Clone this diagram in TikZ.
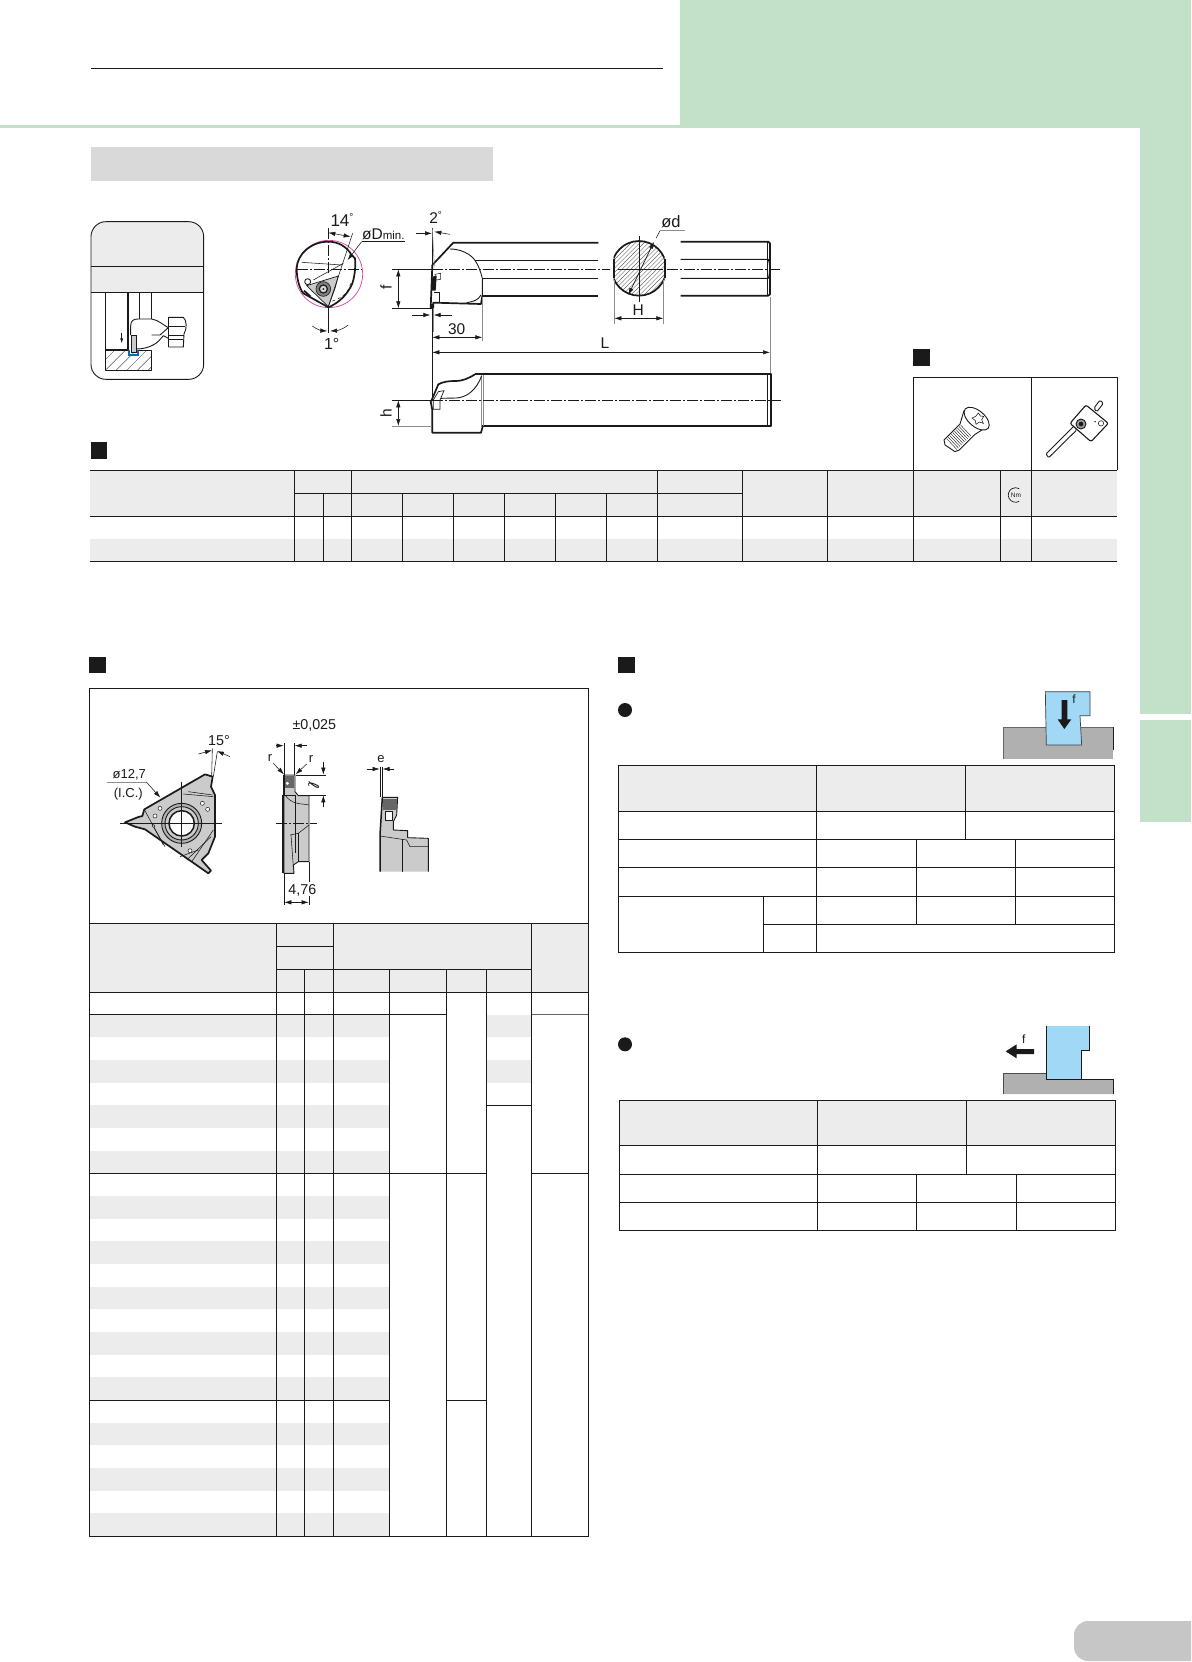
\documentclass[tikz,border=0pt]{standalone}
\usepackage{fontspec}
\setmainfont{Liberation Sans}
\newfontfamily\symfont{DejaVu Sans}
\usetikzlibrary{arrows.meta}
\definecolor{pgreen}{HTML}{C3E0C8}
\definecolor{bargray}{HTML}{D9D9D9}
\definecolor{hdrgray}{HTML}{ECECEC}
\definecolor{ink}{HTML}{1A1A1A}
\definecolor{pillgray}{HTML}{C6C6C6}
\definecolor{toolblue}{HTML}{A0D8F5}
\definecolor{workgray}{HTML}{B0B0B0}
\definecolor{insgray}{HTML}{CBCBCB}
\definecolor{groove}{HTML}{0A6AB0}
\definecolor{pinkc}{HTML}{E0409A}
\newcommand{\smalldeg}{\raisebox{0.3em}{\fontsize{10}{10}\selectfont °}}
\tikzset{
  zA/.style={shift={(80,200)},scale=1/3},
  zB/.style={shift={(370,200)},scale=1/3},
  zC/.style={shift={(85,680)},scale=1/3},
  zD/.style={shift={(610,650)},scale=1/3},
  zE/.style={shift={(610,1010)},scale=1/3},
  zF/.style={shift={(910,340)},scale=1/3},
  tl/.style={draw=ink,line width=1pt},
  vl/.style={draw=ink,line width=0.9pt},
  thickl/.style={draw=ink,line width=1.7pt,line join=round},
  midl/.style={draw=ink,line width=0.9pt,line join=round},
  thinl/.style={draw=ink,line width=0.55pt},
  greyl/.style={draw=black!45,line width=0.6pt},
  cline/.style={draw=ink,line width=0.7pt,dash pattern=on 11pt off 2pt on 2pt off 2pt},
  one/.style={draw=ink,line width=0.55pt,-{Latex[length=7pt,width=4.4pt]}},
  both/.style={draw=ink,line width=0.55pt,{Latex[length=7pt,width=4.4pt]}-{Latex[length=7pt,width=4.4pt]}},
  lab/.style={inner sep=0pt,text=ink,font=\fontsize{15.5}{15.5}\selectfont},
  labm/.style={inner sep=0pt,text=ink,font=\fontsize{14.3}{14.3}\selectfont},
  labb/.style={inner sep=0pt,text=ink,font=\fontsize{17}{17}\selectfont},
  labs/.style={inner sep=0pt,text=ink,font=\fontsize{13}{13}\selectfont},
  hatchl/.style={draw=black!60,line width=0.4pt},
  secsq/.style={fill=ink}
}
\begin{document}
\begin{tikzpicture}[x=1pt,y=-1pt]
\useasboundingbox (0,0) rectangle (1191,1662);
\fill[white] (0,0) rectangle (1191,1662);
% page furniture
\fill[pgreen] (680,0) rectangle (1191,128);
\fill[pgreen] (0,125) rectangle (1191,128);
\fill[pgreen] (1140,128) rectangle (1191,714);
\fill[pgreen] (1140,720) rectangle (1191,822);
\draw[ink,line width=1.1pt] (91,68.5) -- (663,68.5);
\fill[bargray] (91,147) rectangle (493,181);
\fill[pillgray] (1191,1621) [rounded corners=14pt] -- (1074,1621) -- (1074,1661) [sharp corners] -- (1191,1661) -- cycle;
% section squares
\fill[secsq] (91,442.3) rectangle (107,458.7);
\fill[secsq] (913,349) rectangle (930,366);
\fill[secsq] (89,657) rectangle (106,673);
\fill[secsq] (618,657) rectangle (635,673);
\fill[ink] (625,710) circle (7);
\fill[ink] (625,1044.3) circle (7);

% ---- application card
\begin{scope}[zA]
  \begin{scope}
    \clip[rounded corners=15pt] (33,65) rectangle (371,538);
    \fill[hdrgray] (33,65) rectangle (371,277);
  \end{scope}
  \draw[ink,line width=0.9pt,rounded corners=15pt] (33,65) rectangle (371,538);
  \draw[ink,line width=0.8pt] (33,199) -- (371,199);
  \draw[ink,line width=0.8pt] (33,277) -- (371,277);
  \begin{scope}
    \clip (77,450) rectangle (215,511);
    \foreach \i in {-20,12,...,230} \draw[draw=ink,line width=0.35pt] (\i,511) -- (\i+61,450);
  \end{scope}
  \draw[midl] (77,450) -- (77,511) -- (215,511) -- (215,450) -- (176,450);
  \draw[midl] (77,277) -- (77,450);
  \draw[midl] (179,277) -- (179,357);
  \draw[midl] (215,277) -- (215,357);
  \draw[draw=ink,line width=1.3pt] (144,277) -- (144,450) -- (77,450);
  \draw[draw=groove,line width=1.7pt] (147,450) -- (147,464) -- (175,464) -- (175,450);
  \fill[white] (152,460) -- (152,378) .. controls (152,362) and (160,357) .. (175,357) -- (215,357)
     .. controls (235,360) and (250,375) .. (265,383) -- (265,405) .. controls (248,410) and (250,420) .. (215,437)
     .. controls (200,444) and (185,447) .. (170,447) -- (170,460) -- cycle;
  \draw[midl] (152,405) -- (152,378) .. controls (152,362) and (160,357) .. (175,357) -- (215,357)
     .. controls (235,360) and (250,375) .. (265,383);
  \draw[midl] (168,447) .. controls (185,447) and (200,444) .. (215,437) .. controls (235,428) and (240,418) .. (250,407) -- (265,415);
  \draw[midl] (215,405) -- (240,405) -- (265,383);
  \draw[midl] (265,352) -- (265,441);
  \draw[midl] (265,352) -- (310,352) .. controls (320,360) and (322,385) .. (312,402) -- (310,441) -- (265,441);
  \draw[midl] (265,378) -- (316,378);
  \draw[midl] (265,405) -- (312,405);
  \draw[midl] (265,418) -- (310,418);
  \draw[fill=insgray,draw=ink,line width=0.6pt] (154,405) rectangle (170,458);
  \draw[draw=ink,line width=0.5pt,-{Latex[length=5pt,width=3pt]}] (125,398) -- (125,430);
\end{scope}

% ---- end view of holder
\begin{scope}[zA]
  \draw[pinkc,line width=0.7pt] (747,222) circle (101);
  \draw[thickl,fill=white] (650,205) .. controls (652,160) and (695,125) .. (745,125) .. controls (775,125) and (800,140) .. (815,165)
     -- (825,175) .. controls (828,205) and (822,240) .. (815,255) .. controls (800,285) and (780,305) .. (750,320)
     -- (745,322) -- (738,318) -- (670,280) .. controls (658,265) and (650,235) .. (650,205) -- cycle;
  \draw[thinl] (665,187) -- (785,195);
  \draw[thinl] (700,240) -- (790,190);
  \draw[thinl,dashed] (812,250) .. controls (805,280) and (785,295) .. (752,305);
  \draw[fill=insgray,draw=ink,line width=0.7pt] (680,257) -- (775,228) -- (765,265) -- (745,320) -- cycle;
  \draw[midl,fill=white] (683,245) circle (9);
  \draw[draw=ink,line width=1.8pt] (672,272) -- (692,290);
  \draw[draw=ink,fill=black!50,line width=0.6pt] (730,267) circle (22);
  \draw[draw=ink,fill=black!15,line width=1.2pt] (730,267) circle (12);
  \fill[ink] (730,267) circle (3);
  \draw[cline] (652,207) -- (845,207);
  \draw[cline] (745,85) -- (745,225);
  \draw[midl] (745,320) -- (745,400);
  \draw[thinl] (745,320) -- (818,100);
  \draw[both] (745,98) -- (812,110);
  \node[labb] (lab14) at (786,60) {14\smalldeg};
  \node[labb,font=\fontsize{16}{16}\selectfont] (lab1) at (755,433) {1°};
  \node[lab,anchor=west] (labD) at (846,102) {øD{\fontsize{11.5}{11.5}\selectfont min.}};
  \draw[thinl] (975,125) -- (845,125);
  \draw[one] (845,125) -- (803,180);
  \draw[one] (697,378) .. controls (710,388) and (725,392) .. (742,393);
  \draw[one] (805,375) .. controls (790,388) and (770,392) .. (750,393);
\end{scope}

% ---- holder views
\begin{scope}[zB]
  % top view
  \draw[thickl] (187,195) -- (250,128) -- (685,128);
  \draw[thickl] (337,287) -- (685,287);
  \draw[midl] (315,181) -- (685,181);
  \draw[midl] (337,235) -- (685,235);
  \draw[thickl] (187,195) -- (182,325) -- (190,325) -- (190,308) -- (333,312) -- (337,287);
  \draw[midl] (337,287) -- (337,235) .. controls (332,215) and (325,195) .. (315,181) .. controls (300,160) and (270,147) .. (240,147);
  \draw[midl] (333,285) .. controls (325,300) and (310,305) .. (290,308);
  \draw[draw=ink,line width=0.5pt,fill=white] (195,223) -- (212,220) -- (212,238) -- (198,240) -- cycle;
  \fill[ink] (187,230) -- (200,227) -- (197,272) -- (185,272) -- cycle;
  \draw[thinl] (192,278) -- (208,278) -- (208,306);
  \fill[ink] (184,312) rectangle (190,323);
  % shaft end
  \draw[thickl] (932,125) -- (1195,125) -- (1200,130) -- (1200,283) -- (1195,287) -- (932,287);
  \draw[midl] (932,178) -- (1195,178) .. controls (1200,190) and (1200,220) .. (1195,235) -- (932,235);
  \draw[thinl] (1192,125) -- (1192,287);
  % section
  \begin{scope}
    \clip (731,100) rectangle (884,310);
    \begin{scope}
      \clip (807,205) circle (82);
      \foreach \i in {540,553,...,1160} \draw[hatchl] (\i,320) -- (\i+220,100);
    \end{scope}
    \draw[thickl] (807,205) circle (82);
  \end{scope}
  \draw[thickl] (731,176) -- (731,234) (884,176) -- (884,234);
  \draw[thinl] (807,108) -- (807,305);
  \draw[thinl] (743,208) -- (880,208);
  % centre lines
  \draw[cline] (187,208) -- (720,208);
  \draw[cline] (890,208) -- (1232,208);
  % dimensions f
  \draw[thinl] (65,208) -- (187,208);
  \draw[thinl] (65,325) -- (185,325);
  \draw[both] (85,208) -- (85,325);
  \node[lab,rotate=90] (labf) at (48,262) {f};
  % 2 deg
  \node[lab] (lab2) at (197,52) {2\smalldeg};
  \draw[thinl] (187,85) -- (187,195);
  \draw[greyl] (187,85) -- (193,200);
  \draw[one] (138,100) -- (186,100);
  \draw[one] (240,103) -- (193,95);
  % tip offset
  \draw[one] (125,345) -- (181,345);
  \draw[one] (245,345) -- (191,345);
  % 30
  \node[lab] (lab30) at (260,388) {30};
  \draw[greyl] (190,325) -- (190,395);
  \draw[greyl] (337,290) -- (337,422);
  \draw[both] (187,412) -- (337,412);
  % L
  \node[lab] (labL) at (705,428) {L};
  \draw[both] (187,457) -- (1200,457);
  \draw[greyl] (1201,290) -- (1201,521);
  \draw[draw=ink,line width=0.7pt] (186,325) -- (186,600);
  % section dims
  \node[lab,font=\fontsize{16.5}{16.5}\selectfont] (labd) at (903,65) {ød};
  \draw[greyl] (945,92) -- (870,92);
  \draw[thinl] (870,92) -- (858,115);
  \draw[both,line width=0.7pt] (852,125) -- (775,285);
  \node[lab] (labH) at (805,330) {H};
  \draw[greyl] (733,240) -- (733,372);
  \draw[greyl] (880,240) -- (880,372);
  \draw[both] (733,355) -- (880,355);
  % side view
  \draw[thickl] (315,523) -- (1202,523) -- (1202,677) -- (337,677);
  \draw[thinl] (1192,525) -- (1192,677);
  \draw[thickl] (186,598) -- (205,553) .. controls (220,545) and (235,543) .. (255,543) .. controls (280,543) and (295,535) .. (315,523);
  \draw[thickl] (186,598) -- (182,605) -- (187,630) -- (187,698) -- (333,698) -- (338,680);
  \draw[greyl] (333,527) -- (333,680) (340,525) -- (340,677);
  \draw[midl] (335,527) .. controls (320,570) and (290,592) .. (260,594) -- (212,595);
  \draw[draw=ink,fill=white,line width=0.7pt] (190,600) -- (205,575) -- (222,572) -- (210,600) -- (210,628) -- (190,628) -- cycle;
  \draw[midl] (192,600) -- (210,600);
  \draw[cline] (187,601) -- (1232,601);
  \draw[thinl] (65,601) -- (185,601);
  \draw[greyl] (65,678) -- (187,678);
  \draw[both] (85,601) -- (85,678);
  \node[lab,rotate=90] (labh) at (48,640) {h};
\end{scope}

% ---- spare parts box
\draw[tl] (913.5,470.3) -- (913.5,377.3) -- (1117.3,377.3) -- (1117.3,470.3);
\draw[tl] (1031.3,377.3) -- (1031.3,470.3);
\begin{scope}[zF]
  % screw
  \draw[midl,fill=white] (162,212) -- (150,252) -- (102,300) -- (105,315) -- (135,335) -- (148,330) -- (195,283) -- (232,260) -- cycle;
  \foreach \t in {0,1,...,9}
    \draw[draw=ink,line width=0.4pt] ({110+4.6*\t},{296-4.6*\t}) -- ({141+4.6*\t},{329-4.6*\t});
  \draw[midl,fill=white,rotate around={-40:(200,236)}] (200,236) ellipse [x radius=45,y radius=24];
  \draw[thinl,fill=white] (205,219) -- (211,228) -- (221,229) -- (215,239) -- (220,250) -- (208,246) -- (198,253) -- (196,242) -- (186,234) -- (197,229) -- cycle;
  % key
  \draw[midl,fill=white,rounded corners=1.5pt] (552,204) -- (570,180) -- (580,190) -- (560,216) -- cycle;
  \draw[midl,fill=white,rounded corners=1pt] (492,258) -- (408,342) -- (416,353) -- (500,270) -- cycle;
  \draw[draw=ink,fill=white,line width=1.1pt,rounded corners=2pt] (528,195) -- (595,250) -- (543,305) -- (480,250) -- cycle;
  \draw[midl,fill=black!40] (513,252) circle (15);
  \fill[ink] (513,252) circle (7);
  \fill[ink] (555,245) circle (2.5);
  \draw[thinl,fill=white] (573,250) circle (8);
\end{scope}

% ---- holder table
\fill[hdrgray] (90.1,470.3) rectangle (1117.2,516.3);
\fill[hdrgray] (90.1,539) rectangle (1117.2,561);
\draw[tl] (90.1,470.3) -- (1117.2,470.3);
\draw[tl] (294.3,493.3) -- (742.6,493.3);
\draw[tl] (90.1,516.3) -- (1117.2,516.3);
\draw[tl] (90.1,561) -- (1117.2,561);
\foreach \x in {294.3,351.1,657.4,742.6,827.1,913.5,1000.2,1031.3} \draw[vl] (\x,470.3) -- (\x,561);
\foreach \x in {323.4,402.5,453.2,504.6,555.3,606.7} \draw[vl] (\x,493.3) -- (\x,561);
\draw[ink,line width=0.7pt] (1019.2,501.3) arc[start angle=60,end angle=300,radius=7.3];
\node[inner sep=0pt,text=ink,font=\fontsize{6.5}{6.5}\selectfont] (nm) at (1016,495) {Nm};

% ---- insert box
\begin{scope}[zC]
  % front view
  \draw[thickl,fill=insgray] (360,283) -- (383,290) -- (378,320) -- (390,345) -- (390,470) -- (370,520) -- (350,540) -- (378,572) -- (370,580) -- (330,552) -- (180,448) -- (150,440) -- (120,427) -- (160,411) -- (172,408) -- (178,388) -- cycle;
  \draw[thinl] (180,392) -- (235,495);
  \draw[thinl] (200,430) -- (240,500);
  \draw[thinl] (295,342) -- (385,350);
  \draw[thinl] (310,335) -- (383,345);
  \draw[thinl] (385,450) -- (320,545);
  \draw[thinl] (378,470) -- (305,540);
  \draw[thinl] (285,530) -- (340,510);
  \foreach \p/\r in {(225,385)/6,(210,408)/6,(352,370)/6,(368,388)/6,(315,512)/6,(206,438)/4}
    \draw[draw=ink,line width=0.5pt,fill=white] \p circle (\r);
  \draw[midl,fill=black!30] (290,430) circle (60);
  \draw[midl,fill=insgray] (290,430) circle (50);
  \draw[draw=ink,line width=1.5pt,fill=white] (290,430) circle (38);
  \draw[thinl] (105,430) -- (410,430);
  \draw[thinl] (290,305) -- (290,500);
  % 15 deg
  \node[labm] (lab15) at (402,183) {15°};
  \draw[thinl] (380,290) -- (382,205);
  \draw[thinl] (385,290) -- (397,215);
  \draw[one] (340,222) -- (381,211);
  \draw[one] (435,230) -- (396,213);
  \node[labs] (labIC1) at (133,283) {ø12,7};
  \node[labs] (labIC2) at (130,343) {(I.C.)};
  \draw[greyl] (65,307) -- (185,307);
  \draw[one] (185,307) -- (226,353);
  % middle view
  \draw[midl,fill=insgray] (597,285) -- (630,285) -- (630,335) -- (640,347) -- (672,347) -- (672,545) -- (640,545) -- (625,555) -- (627,580) -- (597,580) -- cycle;
  \draw[draw=ink,line width=1.5pt] (597,285) -- (597,345) (594,345) -- (594,578);
  \fill[black!60] (600,288) rectangle (627,325);
  \fill[white] (607,310) circle (5);
  \draw[thinl] (600,345) .. controls (620,375) and (650,370) .. (672,375);
  \draw[thinl] (630,345) -- (630,520);
  \draw[thinl] (615,465) -- (640,460) -- (672,435);
  \draw[thinl] (618,465) -- (625,560);
  \draw[thinl] (640,460) -- (640,545);
  \draw[thinl] (597,345) -- (630,345);
  \draw[cline] (573,430) -- (695,430);
  \node[labm] (labtol) at (688,136) {±0,025};
  \draw[thinl] (597,190) -- (597,285);
  \draw[thinl] (628,190) -- (628,285);
  \draw[one] (573,197) -- (596,197);
  \draw[one] (665,197) -- (629,197);
  \node[labs] (labr1) at (555,235) {r};
  \node[labs] (labr2) at (678,238) {r};
  \draw[one] (565,250) -- (597,283);
  \draw[one] (665,252) -- (632,283);
  \draw[thinl] (632,285) -- (722,285);
  \draw[thinl] (640,345) -- (722,345);
  \draw[one] (715,245) -- (715,284);
  \draw[one] (715,382) -- (715,346);
  \node[inner sep=0pt,rotate=-100,text=ink,font=\symfont\fontsize{15}{15}\selectfont] (labl) at (686,315) {ℓ};
  \draw[thinl] (597,580) -- (597,675);
  \draw[thinl] (672,545) -- (672,605) (672,648) -- (672,675);
  \node[labm] (lab476) at (652,630) {4,76};
  \draw[one] (640,667) -- (598,667);
  \draw[one] (630,667) -- (671,667);
  % right view
  \fill[insgray] (892,352) -- (938,352) -- (935,405) -- (925,425) -- (925,450) -- (968,452) -- (968,473) -- (1030,475) -- (1030,575) -- (885,575) -- (885,465) -- cycle;
  \draw[midl] (892,352) -- (938,352) -- (935,405) -- (925,425) -- (925,450) -- (968,452) -- (968,473) -- (1030,475) -- (1030,575);
  \draw[draw=ink,line width=1.5pt] (892,352) -- (885,465) -- (885,575);
  \fill[black!60] (895,356) rectangle (935,390);
  \draw[draw=ink,fill=white,line width=0.5pt] (902,395) rectangle (922,420);
  \draw[thinl] (885,468) -- (965,480) -- (975,500) -- (1030,500);
  \draw[thinl] (952,478) -- (952,575);
  \draw[thinl] (885,260) -- (885,352);
  \draw[thinl] (892,260) -- (892,352);
  \node[labs] (labe) at (888,238) {e};
  \draw[one] (845,267) -- (884,267);
  \draw[one] (928,267) -- (893,267);
\end{scope}

% ---- insert table
\fill[hdrgray] (89.7,923.3) rectangle (588.3,992.3);
\foreach \a/\b in {1014.3/1037,1060/1083,1105/1128,1151/1173.3,1196/1219,1241/1264,1287/1309,1332/1355,1377/1400.3,1423/1445,1468/1491,1513/1536}
  \fill[hdrgray] (89.7,\a) rectangle (389.3,\b);
\fill[hdrgray] (486.3,1015) rectangle (531.3,1037);
\fill[hdrgray] (486.3,1060) rectangle (531.3,1083);
\draw[tl] (89.7,923.3) -- (588.3,923.3);
\draw[tl] (276.3,946.3) -- (333.3,946.3);
\draw[tl] (276.3,969.3) -- (531.3,969.3);
\draw[tl] (89.7,992.3) -- (588.3,992.3);
\draw[tl] (89.7,1014.3) -- (446.3,1014.3);
\draw[draw=black!60,line width=0.9pt] (531.3,1014.3) -- (588.3,1014.3);
\draw[tl] (486.3,1105) -- (531.3,1105);
\draw[tl] (89.7,1173.3) -- (486.3,1173.3);
\draw[tl] (531.3,1173.3) -- (588.3,1173.3);
\draw[tl] (89.7,1400.3) -- (389.3,1400.3);
\draw[tl] (446.3,1400.3) -- (486.3,1400.3);
\foreach \x in {276.3,333.3,531.3} \draw[vl] (\x,923.3) -- (\x,1536.3);
\foreach \x in {304.3,389.3,446.3,486.3} \draw[vl] (\x,969.3) -- (\x,1536.3);
\draw[tl] (89.7,688.3) rectangle (588.3,1536.3);

% ---- cutting condition table 1
\fill[hdrgray] (618.3,765.7) rectangle (1114.3,811.3);
\draw[tl] (618.3,765.7) rectangle (1114.3,952.3);
\foreach \y in {811.3,839.3,867.3,896.3} \draw[tl] (618.3,\y) -- (1114.3,\y);
\draw[tl] (763.3,924.3) -- (1114.3,924.3);
\draw[tl] (816.3,765.7) -- (816.3,952.3);
\draw[tl] (965.3,765.7) -- (965.3,839.3);
\draw[tl] (916.3,839.3) -- (916.3,924.3);
\draw[tl] (1015.3,839.3) -- (1015.3,924.3);
\draw[tl] (763.3,896.3) -- (763.3,952.3);
\begin{scope}[zD]
  \fill[workgray] (1180,232) rectangle (1510,328);
  \draw[draw=black!60,line width=0.6pt] (1180,328) -- (1180,232) -- (1310,232);
  \draw[draw=black!60,line width=0.6pt] (1414,232) -- (1510,232);
  \draw[draw=ink,line width=0.6pt] (1510,232) -- (1510,300);
  \draw[draw=black!75,fill=toolblue,line width=0.7pt] (1306,125) -- (1440,125) -- (1440,197) -- (1410,197) -- (1415,285) -- (1309,285) -- cycle;
  \fill[ink] (1355,150) -- (1372,150) -- (1372,208) -- (1384,208) -- (1363,237) -- (1343,208) -- (1355,208) -- cycle;
  \node[labs,font=\fontsize{12}{12}\selectfont] (labfa) at (1392,148) {f};
\end{scope}

% ---- cutting condition table 2
\fill[hdrgray] (619.3,1100.3) rectangle (1115.3,1145.3);
\draw[tl] (619.3,1100.3) rectangle (1115.3,1230.3);
\foreach \y in {1145.3,1174,1202.3} \draw[tl] (619.3,\y) -- (1115.3,\y);
\draw[tl] (817.3,1100.3) -- (817.3,1230.3);
\draw[tl] (966.3,1100.3) -- (966.3,1174);
\draw[tl] (916.3,1174) -- (916.3,1230.3);
\draw[tl] (1016.3,1174) -- (1016.3,1230.3);
\begin{scope}[zE]
  \fill[workgray] (1180,190) -- (1310,190) -- (1310,208) -- (1510,208) -- (1510,252) -- (1180,252) -- cycle;
  \draw[draw=black!70,line width=0.6pt] (1180,252) -- (1180,190) -- (1310,190);
  \draw[draw=ink,line width=0.7pt] (1414,208) -- (1510,208) -- (1510,252);
  \fill[toolblue] (1310,48) rectangle (1438,122);
  \fill[toolblue] (1310,122) rectangle (1414,208);
  \draw[draw=ink,line width=0.8pt] (1310,48) -- (1310,208) -- (1414,208) -- (1414,122) -- (1438,122) -- (1438,48);
  \fill[ink] (1272,117) -- (1272,132) -- (1220,132) -- (1220,145) -- (1187,124) -- (1220,103) -- (1220,117) -- cycle;
  \node[labs,font=\fontsize{12}{12}\selectfont] (labfb) at (1241,88) {f};
\end{scope}
\end{tikzpicture}
\end{document}
